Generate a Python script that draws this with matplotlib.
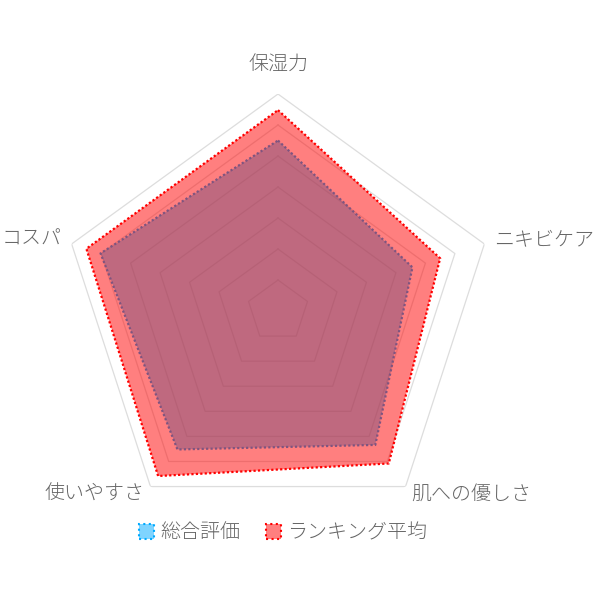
import numpy as np
import matplotlib
matplotlib.use("Agg")
from matplotlib import pyplot as plt
from matplotlib.patches import Patch

plt.rcParams['font.family'] = ['Noto Sans CJK JP', 'DejaVu Sans']

# radar data
categories = ['保湿力', 'ニキビケア', '肌への優しさ', '使いやすさ', 'コスパ']
overall = [4.25, 3.78, 4.17, 4.26, 4.51]
ranking_avg = [4.74, 4.25, 4.54, 4.79, 4.75]
series_names = ['総合評価', 'ランキング平均']
grid_levels = [2.0, 2.5, 3.0, 3.5, 4.0, 4.5, 5.0]
r_min, r_max = 1.5, 5.0

blue = (0/255, 170/255, 255/255)
red = (1.0, 0.0, 0.0)
text_color = '#666666'

n = len(categories)
angles = np.linspace(0, 2 * np.pi, n, endpoint=False)
closed = np.concatenate([angles, angles[:1]])

fig = plt.figure(figsize=(6, 6), dpi=100)
ax = fig.add_axes([0.1017, 0.12, 0.7233, 0.7233], projection='polar')
ax.set_theta_offset(np.pi / 2)
ax.set_theta_direction(-1)
ax.set_ylim(r_min, r_max)
ax.grid(False)
ax.set_xticks([])
ax.set_yticks([])
ax.spines['polar'].set_visible(False)
ax.patch.set_alpha(0)

# pentagon grid
for lvl in grid_levels:
    ax.plot(closed, [lvl] * (n + 1), color='#dddddd', lw=0.9, zorder=1)

# datasets drawn in order: blue fill + border, then red fill + border
z = 2
for vals, col in [(overall, blue), (ranking_avg, red)]:
    v = list(vals) + [vals[0]]
    ax.fill(closed, v, color=col, alpha=0.5, lw=0, zorder=z)
    ax.plot(closed, v, color=col, lw=1.6, linestyle=(0, (1, 1)), zorder=z + 0.5)
    z += 1

# point labels (pixel offsets from the outer vertex)
label_style = [((0, 29), 'center'), ((10, 4), 'left'), ((6, -8), 'left'),
               ((-6, -8), 'right'), ((-10, 5), 'right')]
for ang, lab, (off, ha) in zip(angles, categories, label_style):
    ax.annotate(lab, xy=(ang, r_max), xytext=off, textcoords='offset pixels',
                ha=ha, va='center', fontsize=14.4, color=text_color,
                fontweight='light', annotation_clip=False)

handles = [Patch(facecolor=(*blue, 0.5), edgecolor=blue, linestyle=':', lw=1.5),
           Patch(facecolor=(*red, 0.5), edgecolor=red, linestyle=':', lw=1.5)]
leg = fig.legend(handles, series_names, loc='center', bbox_to_anchor=(0.472, 0.112),
                 ncol=2, frameon=False, handlelength=0.75, handleheight=0.75,
                 handletextpad=0.3, columnspacing=1.3, prop={'size': 14.4, 'weight': 'light'})
for t in leg.get_texts():
    t.set_color(text_color)

fig.savefig('out.png', dpi=100)
